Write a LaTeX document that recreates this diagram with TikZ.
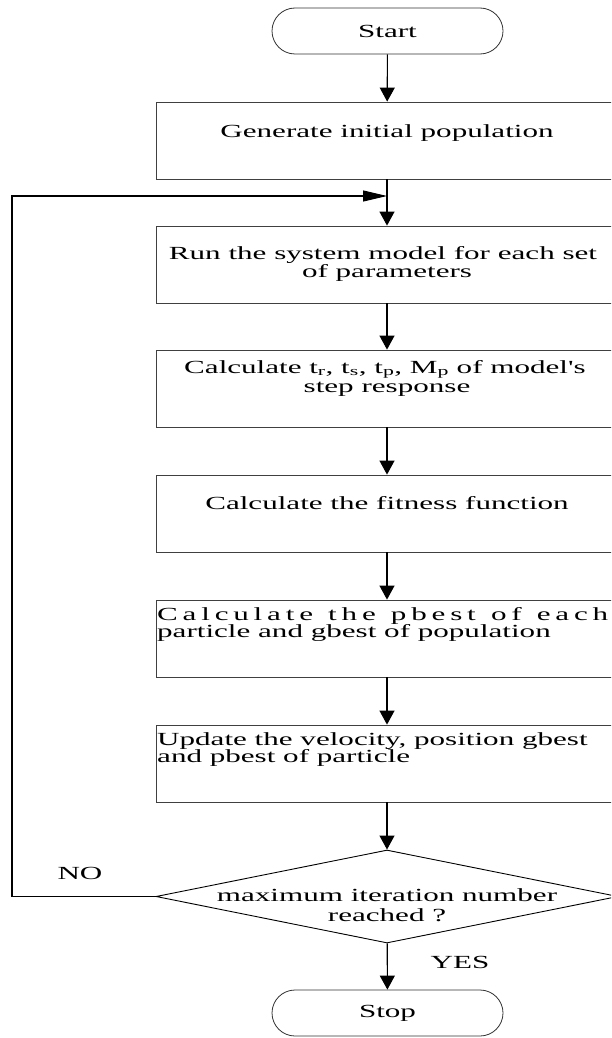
\documentclass[tikz,border=0pt]{standalone}
\usepackage{fontspec}
\setmainfont{Liberation Serif}[FakeStretch=1.68,Ligatures=TeXOff]
\usetikzlibrary{arrows.meta,shapes.geometric,shapes.misc}
\newcommand\dfont{\fontsize{18.5}{20}\selectfont}
\begin{document}
\begin{tikzpicture}[x=1pt,y=-1pt,
  box/.style={draw=black!75,line width=0.8pt,minimum width=462pt,minimum height=77pt,inner sep=0pt},
  term/.style={draw=black!80,line width=0.8pt,rounded rectangle,minimum width=231pt,minimum height=46pt,inner sep=0pt,font=\dfont},
  dec/.style={draw=black,line width=0.9pt,diamond,minimum width=462pt,minimum height=93pt,inner sep=0pt},
  txt/.style={inner sep=0pt,font=\dfont},
  flow/.style={line width=1.1pt,-{Triangle[width=15pt,length=14pt]}},
  back/.style={line width=1.1pt,-{Triangle[width=11pt,length=24pt]}}]
\useasboundingbox (0,0) rectangle (611,1038);
\clip (0,0) rectangle (611,1038);
\fill[white] (0,0) rectangle (611,1038);

\node[term] (start) at (387.5,31) {Start};
\node[box] (b1) at (387,140.5) {};
\node[box] (b2) at (387,264.5) {};
\node[box] (b3) at (387,388.5) {};
\node[box] (b4) at (387,513.5) {};
\node[box] (b5) at (387,638.5) {};
\node[box] (b6) at (387,763.5) {};
\node[dec] (d) at (387,896.5) {};
\node[term] (stop) at (387.5,1013) {Stop};

\node[txt,anchor=base] (t1) at (387,137) {Generate initial population};
\node[txt,anchor=base] (t2a) at (383,259) {Run the system model for each set};
\node[txt,anchor=base] (t2b) at (387,277) {of parameters};
\node[txt,anchor=base] (t3a) at (385,373) {Calculate t\textsubscript{r}, t\textsubscript{s}, t\textsubscript{p}, M\textsubscript{p} of model's};
\node[txt,anchor=base] (t3b) at (387,392) {step response};
\node[txt,anchor=base] (t4) at (387,509) {Calculate the fitness function};
\node[txt,anchor=base west] (t5a) at (157,620) {\makebox[451pt][s]{\addfontfeature{LetterSpace=26}Calculate the pbest of each}};
\node[txt,anchor=base west] (t5b) at (157,637) {particle and gbest of population};
\node[txt,anchor=base west] (t6a) at (157,745) {Update the velocity, position gbest};
\node[txt,anchor=base west] (t6b) at (157,762) {and pbest of particle};
\node[txt,anchor=base] (td1) at (387,901) {maximum iteration number};
\node[txt,anchor=base] (td2) at (387,921) {reached ?};
\node[txt] (no) at (80,873) {NO};
\node[txt] (yes) at (460,962) {YES};

\coordinate (join) at (387,196);
\coordinate (lc) at (12,196);

\draw[flow] (start) -- (b1);
\draw[flow] (b1) -- (b2);
\draw[flow] (b2) -- (b3);
\draw[flow] (b3) -- (b4);
\draw[flow] (b4) -- (b5);
\draw[flow] (b5) -- (b6);
\draw[flow] (b6) -- (d);
\draw[flow] (d) -- (stop);
\draw[back] (d.west) -| (lc) -- (join);
\end{tikzpicture}
\end{document}
